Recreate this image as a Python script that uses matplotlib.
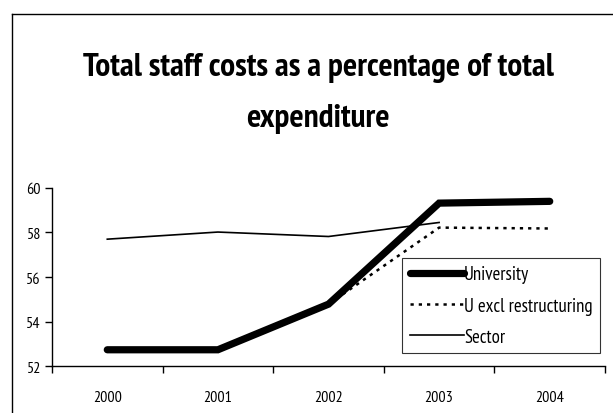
import matplotlib
matplotlib.use('Agg')
import matplotlib.pyplot as plt
import numpy as np
from matplotlib.lines import Line2D

plt.rcParams['font.family'] = ['PT Sans Narrow', 'Liberation Sans', 'DejaVu Sans']

# Data
years = ["2000", "2001", "2002", "2003", "2004"]
university = [52.73, 52.73, 54.78, 59.32, 59.40]
u_excl_restructuring = [52.73, 52.73, 54.78, 58.22, 58.18]
sector = [57.70, 58.02, 57.82, 58.45]

fig = plt.figure(figsize=(6.13, 4.14), dpi=100)
ax = fig.add_axes([0.0848, 0.1135, 0.9022, 0.4300])

x = np.arange(len(years))

ax.plot(x, university, color='black', linewidth=5.2, solid_capstyle='round',
        solid_joinstyle='miter', label='University', zorder=3)
ax.plot(x, u_excl_restructuring, color='black', linewidth=1.8,
        linestyle=(0, (1.3, 2.0)), dash_capstyle='butt',
        label='U excl restructuring', zorder=2)
ax.plot(x[:len(sector)], sector, color='black', linewidth=1.2,
        label='Sector', zorder=4)

# Axes limits and ticks
ax.set_xlim(-0.5, len(years) - 0.5)
ax.set_ylim(52, 60)
ax.set_yticks(np.arange(52, 61, 2))
ax.set_xticks(np.arange(-0.5, len(years), 1.0))
ax.set_xticklabels([])
ax.set_xticks(x, minor=True)
ax.set_xticklabels(years, minor=True, fontsize=11.5)
ax.tick_params(axis='x', which='major', direction='out', length=5, width=1)
ax.tick_params(axis='x', which='minor', length=0, pad=17)
ax.tick_params(axis='y', direction='out', length=5, width=1, labelsize=11.5, pad=3)

ax.spines['top'].set_visible(False)
ax.spines['right'].set_visible(False)
ax.spines['left'].set_linewidth(1)
ax.spines['bottom'].set_linewidth(1)

# Title
fig.text(0.519, 1 - 53 / 414, 'Total staff costs as a percentage of total\nexpenditure',
         ha='center', va='top', fontsize=24, fontweight='bold',
         linespacing=1.9)

# Legend
leg = ax.legend(loc='upper right', bbox_to_anchor=(0.991, 0.607), fontsize=13.5,
                frameon=True, fancybox=False, edgecolor='black',
                handlelength=2.9, handletextpad=0.0, labelspacing=0.7,
                borderpad=0.4, borderaxespad=0.0)
leg.get_frame().set_linewidth(0.8)

# Outer chart-area border
fig.add_artist(Line2D([12 / 613, 12 / 613], [0.0, 1 - 15 / 414],
                      color='black', linewidth=1.0))
fig.add_artist(Line2D([12 / 613, 1.0], [1 - 15 / 414, 1 - 15 / 414],
                      color='black', linewidth=1.0))

fig.savefig('out.png', dpi=100)
